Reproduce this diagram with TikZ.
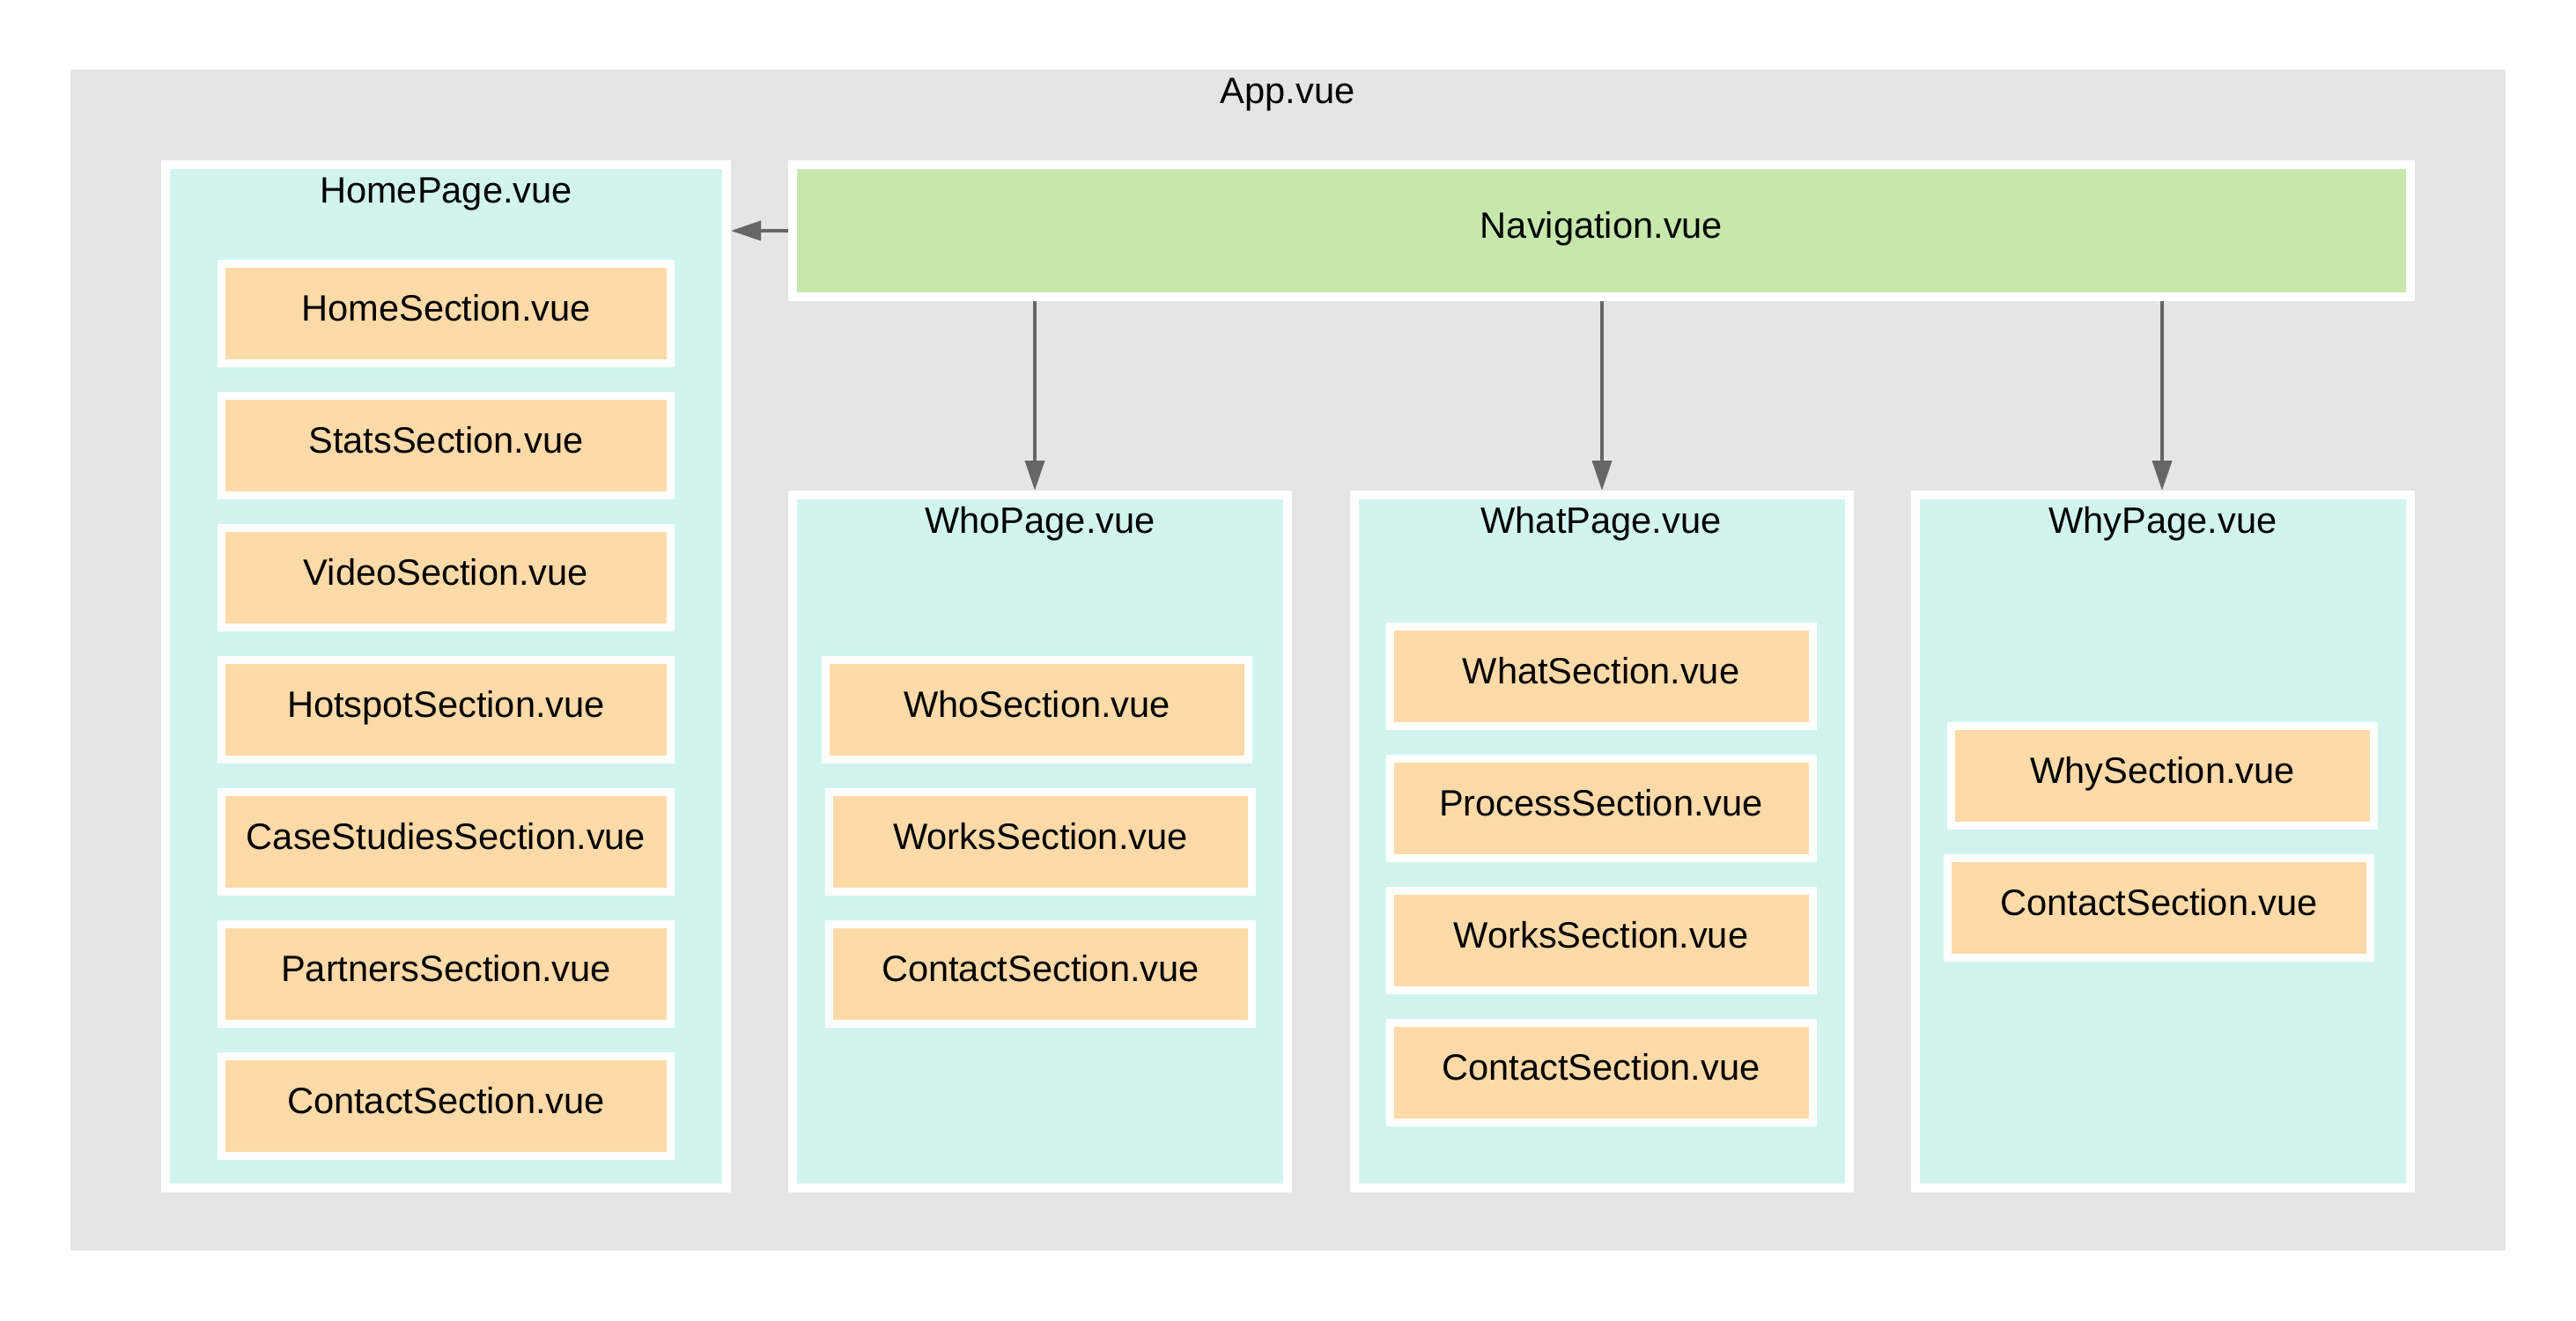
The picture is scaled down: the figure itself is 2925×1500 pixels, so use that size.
\documentclass[tikz,border=0pt]{standalone}
\usepackage{fontspec}
\setmainfont{Liberation Sans}
\usetikzlibrary{arrows.meta}
\definecolor{appgray}{HTML}{E5E5E5}
\definecolor{pagecyan}{HTML}{D1F5EE}
\definecolor{secorange}{HTML}{FEDAA8}
\definecolor{navgreen}{HTML}{C7E8AC}
\definecolor{arrgray}{HTML}{666666}
\begin{document}
\begin{tikzpicture}[x=0.5pt,y=-0.5pt,
  every node/.style={font=\fontsize{20.8}{24}\selectfont, text=black},
  appbox/.style={fill=appgray, draw=none, inner sep=0pt, outer sep=0pt},
  pagebox/.style={fill=pagecyan, draw=white, line width=5pt, inner sep=0pt, outer sep=2.5pt},
  navbox/.style={fill=navgreen, draw=white, line width=5pt, inner sep=0pt, outer sep=2.5pt, text height=0.85em, text depth=0.05em},
  secbox/.style={fill=secorange, draw=white, line width=4.5pt, inner sep=0pt, outer sep=2.25pt,
    minimum height=56.5pt, minimum width=240pt, text height=0.85em, text depth=0.05em},
  homesec/.style={secbox, minimum width=255pt},
  title/.style={anchor=base, inner sep=0pt},
  arr/.style={draw=arrgray, line width=1.8pt, -{Triangle[length=17pt,width=11pt]}}
]
\useasboundingbox (0,0) rectangle (2925,1500);

% App container
\node[appbox, minimum width=1382.5pt, minimum height=670.5pt] (app) at (1462.5,749.5) {};
\node[title] (apptitle) at (1462,117) {App.vue};

% Pages
\node[pagebox, minimum width=318.5pt, minimum height=581pt] (home) at (506.5,768) {};
\node[title] (hometitle) at (506.5,230) {HomePage.vue};

\node[navbox, minimum width=918.5pt, minimum height=75pt] (nav) at (1818.5,262) {Navigation.vue};

\node[pagebox, minimum width=281pt, minimum height=393.5pt] (who) at (1181,955.5) {};
\node[title] (whotitle) at (1181,605) {WhoPage.vue};

\node[pagebox, minimum width=281pt, minimum height=393.5pt] (what) at (1819,955.5) {};
\node[title] (whattitle) at (1818,605) {WhatPage.vue};

\node[pagebox, minimum width=281pt, minimum height=393.5pt] (why) at (2456,955.5) {};
\node[title] (whytitle) at (2456,605) {WhyPage.vue};

% Home sections
\node[homesec] (hs1) at (506.5,356) {HomeSection.vue};
\node[homesec] (hs2) at (506.5,506) {StatsSection.vue};
\node[homesec] (hs3) at (506.5,656) {VideoSection.vue};
\node[homesec] (hs4) at (506.5,806) {HotspotSection.vue};
\node[homesec] (hs5) at (506.5,956) {CaseStudiesSection.vue};
\node[homesec] (hs6) at (506.5,1106) {PartnersSection.vue};
\node[homesec] (hs7) at (506.5,1256) {ContactSection.vue};

% Who sections
\node[secbox] (ws1) at (1177.5,806) {WhoSection.vue};
\node[secbox] (ws2) at (1181.5,956) {WorksSection.vue};
\node[secbox] (ws3) at (1181.5,1106) {ContactSection.vue};

% What sections
\node[secbox] (ts1) at (1818,768) {WhatSection.vue};
\node[secbox] (ts2) at (1818,918) {ProcessSection.vue};
\node[secbox] (ts3) at (1818,1068) {WorksSection.vue};
\node[secbox] (ts4) at (1818,1218) {ContactSection.vue};

% Why sections
\node[secbox] (ys1) at (2455.5,881) {WhySection.vue};
\node[secbox] (ys2) at (2451.5,1031) {ContactSection.vue};

% Connectors
\draw[arr] (nav.west) -- (nav.west -| home.east);
\draw[arr] (nav.south -| 1175,0) -- (who.north -| 1175,0);
\draw[arr] (nav.south -| what.north) -- (what.north);
\draw[arr] (nav.south -| 2455,0) -- (why.north -| 2455,0);
\end{tikzpicture}
\end{document}
